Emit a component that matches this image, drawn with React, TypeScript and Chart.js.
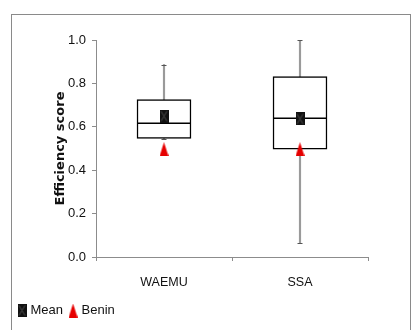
import React, { useEffect, useRef } from 'react';
import { Chart, registerables } from 'chart.js';

Chart.register(...registerables);

const categories = ['WAEMU', 'SSA'];
const whiskerMin = [0.546, 0.065];
const q1 = [0.546, 0.497];
const median = [0.618, 0.64];
const q3 = [0.726, 0.831];
const whiskerMax = [0.887, 1.0];
const meanValues = [0.649, 0.636];
const beninValues = [0.497, 0.497];
const yTicks = [0, 0.2, 0.4, 0.6, 0.8, 1.0];

const NARROW = "'Liberation Sans Narrow', 'Liberation Sans', Arial, sans-serif";

function makeMeanImage(): HTMLCanvasElement {
  const c = document.createElement('canvas');
  c.width = 9;
  c.height = 13;
  const g = c.getContext('2d')!;
  g.fillStyle = '#111';
  g.fillRect(0, 0, 9, 13);
  g.strokeStyle = '#4a4a4a';
  g.lineWidth = 1;
  g.beginPath();
  g.moveTo(1.5, 1.5);
  g.lineTo(7.5, 11.5);
  g.moveTo(7.5, 1.5);
  g.lineTo(1.5, 11.5);
  g.stroke();
  return c;
}

function makeTriangleImage(): HTMLCanvasElement {
  const c = document.createElement('canvas');
  c.width = 9;
  c.height = 14;
  const g = c.getContext('2d')!;
  g.fillStyle = '#e60000';
  g.beginPath();
  g.moveTo(4.5, 0);
  g.lineTo(9, 14);
  g.lineTo(0, 14);
  g.closePath();
  g.fill();
  return c;
}

const boxPartsPlugin = {
  id: 'boxParts',
  afterDatasetDraw(chart: any, args: any) {
    const ds = chart.data.datasets[args.index];
    const ctx = chart.ctx;
    const y = chart.scales.y;
    const meta = chart.getDatasetMeta(args.index);
    if (ds.label === 'Box') {
      ctx.save();
      ctx.strokeStyle = '#000';
      ctx.lineWidth = 1.5;
      meta.data.forEach((el: any, i: number) => {
        const w = el.width;
        const py = Math.round(y.getPixelForValue(median[i])) + 0.25;
        ctx.beginPath();
        ctx.moveTo(el.x - w / 2, py);
        ctx.lineTo(el.x + w / 2, py);
        ctx.stroke();
      });
      ctx.restore();
    }
    if (ds.label === 'Whisker') {
      ctx.save();
      ctx.strokeStyle = '#555';
      ctx.lineWidth = 1;
      meta.data.forEach((el: any, i: number) => {
        [whiskerMin[i], whiskerMax[i]].forEach((v) => {
          const py = Math.round(y.getPixelForValue(v)) + 0.5;
          ctx.beginPath();
          ctx.moveTo(el.x - 2.5, py);
          ctx.lineTo(el.x + 2.5, py);
          ctx.stroke();
        });
      });
      ctx.restore();
    }
  },
};

export default function App() {
  const ref = useRef<HTMLCanvasElement | null>(null);

  useEffect(() => {
    if (!ref.current) return;
    const meanImg = makeMeanImage();
    const triImg = makeTriangleImage();
    const chart = new Chart(ref.current, {
      type: 'bar',
      data: {
        labels: categories,
        datasets: [
          {
            type: 'line',
            label: 'Mean',
            data: meanValues,
            showLine: false,
            pointStyle: meanImg as any,
            pointRadius: 5,
            order: 2,
          } as any,
          {
            type: 'line',
            label: 'Benin',
            data: beninValues,
            showLine: false,
            pointStyle: triImg as any,
            pointRadius: 5,
            order: 1,
          } as any,
          {
            type: 'bar',
            label: 'Box',
            data: categories.map((_, i) => [q1[i], q3[i]]),
            backgroundColor: '#ffffff',
            borderColor: '#000000',
            borderWidth: 1.5,
            borderSkipped: false,
            barThickness: 54,
            grouped: false,
            order: 3,
          } as any,
          {
            type: 'bar',
            label: 'Whisker',
            data: categories.map((_, i) => [whiskerMin[i], whiskerMax[i]]),
            backgroundColor: '#9a9a9a',
            borderWidth: 0,
            barThickness: 1.5,
            grouped: false,
            order: 4,
          } as any,
        ],
      },
      options: {
        animation: false,
        responsive: false,
        layout: { padding: { left: 12, top: 40, right: 43, bottom: 3 } },
        plugins: {
          tooltip: { enabled: false },
          legend: {
            position: 'bottom',
            align: 'start',
            labels: {
              usePointStyle: true,
              pointStyleWidth: 4,
              padding: 8,
              color: '#111',
              font: { family: NARROW, size: 13 },
              filter: (item: any) => item.text === 'Mean' || item.text === 'Benin',
              sort: (a: any, b: any) => a.datasetIndex - b.datasetIndex,
            },
          },
        },
        scales: {
          x: {
            type: 'category',
            offset: true,
            grid: {
              display: true,
              offset: true,
              drawOnChartArea: false,
              drawTicks: true,
              tickLength: 4,
              color: '#8c8c8c',
            },
            border: { display: true, color: '#8c8c8c', width: 1 },
            ticks: {
              color: '#111',
              padding: 14,
              font: { family: NARROW, size: 12.5 },
            },
            afterFit: (s: any) => {
              s.height = 39;
            },
          },
          y: {
            type: 'linear',
            min: 0,
            max: 1,
            afterBuildTicks: (s: any) => {
              s.ticks = yTicks.map((v) => ({ value: v }));
            },
            grid: {
              display: true,
              drawOnChartArea: false,
              drawTicks: true,
              tickLength: 4,
              color: '#8c8c8c',
            },
            border: { display: true, color: '#8c8c8c', width: 1 },
            ticks: {
              color: '#111',
              padding: 6,
              font: { family: NARROW, size: 13 },
              callback: (v: any) => Number(v).toFixed(1),
            },
            title: {
              display: true,
              text: 'Efficiency score',
              color: '#111',
              font: { family: "'DejaVu Sans', sans-serif", size: 13, weight: 'bold' },
              padding: { top: 41, bottom: 0 },
            },
            afterFit: (s: any) => {
              s.width = 84;
            },
          },
        },
      },
      plugins: [boxPartsPlugin],
    });
    return () => chart.destroy();
  }, []);

  return (
    <div style={{ position: 'absolute', left: 0, top: 0, width: 411, height: 330, overflow: 'hidden', background: '#fff' }}>
      <div
        style={{
          position: 'absolute',
          left: 11,
          top: 14,
          width: 398,
          height: 400,
          border: '1px solid #8a8a8a',
        }}
      />
      <canvas
        ref={ref}
        width={411}
        height={330}
        style={{ position: 'absolute', left: 0, top: 0, width: 411, height: 330 }}
      />
    </div>
  );
}
